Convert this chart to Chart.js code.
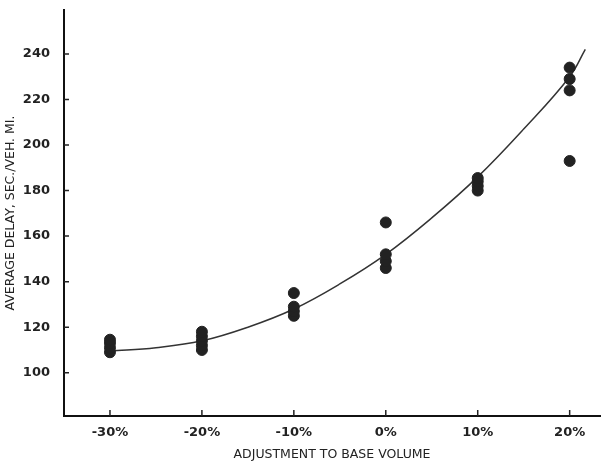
<!DOCTYPE html>
<html>
<head>
<meta charset="utf-8">
<script src="https://cdn.jsdelivr.net/npm/chart.js@4"></script>
<style>
  html, body { margin: 0; padding: 0; background: #fff; }
  #wrap { width: 608px; height: 463px; }
</style>
</head>
<body>
<div id="wrap"><canvas id="delay-chart" width="608" height="463"></canvas></div>
<script>
// observed runs (volume adjustment %, average delay)
const obsX = [-30, -30, -30, -30, -20, -20, -20, -20, -20, -10, -10, -10, -10, 0, 0, 0, 0, 10, 10, 10, 10, 20, 20, 20, 20]
const obsY = [109, 111, 113, 114.5, 110, 112, 114, 116, 118, 125, 127, 129, 135, 146, 149, 152, 166, 180, 182, 184, 185.5, 193, 224, 229, 234]

// fitted curve
const curveX = [-30, -25, -20, -15, -10, -5, 0, 5, 10, 15, 20, 21.7]
const curveY = [109.5, 111, 114, 120, 128, 139, 152, 168, 186, 207, 230, 242]

const xTicks = [-30, -20, -10, 0, 10, 20]
const yTicks = [100, 120, 140, 160, 180, 200, 220, 240]

const tickFont = { family: 'DejaVu Sans', size: 13, weight: 'bold' }
const titleFont = { family: 'DejaVu Sans', size: 12.5 }

const innerTicks = {
  id: 'innerTicks',
  afterDraw(chart) {
    const ctx = chart.ctx
    const x = chart.scales.x, y = chart.scales.y
    ctx.save()
    ctx.strokeStyle = '#222'
    ctx.lineWidth = 1.5
    ctx.beginPath()
    yTicks.forEach(v => {
      const py = y.getPixelForValue(v)
      ctx.moveTo(x.left, py)
      ctx.lineTo(x.left + 5, py)
    })
    xTicks.forEach(v => {
      const px = x.getPixelForValue(v)
      ctx.moveTo(px, y.bottom)
      ctx.lineTo(px, y.bottom - 6)
    })
    ctx.stroke()
    ctx.restore()
  }
}

const data = {
  datasets: [{
    type: 'line',
    data: curveX.map((v, i) => ({ x: v, y: curveY[i] })),
    borderColor: '#333',
    borderWidth: 1.5,
    pointRadius: 0,
    tension: 0.4,
    fill: false,
    order: 2
  }, {
    type: 'scatter',
    data: obsX.map((v, i) => ({ x: v, y: obsY[i] })),
    backgroundColor: '#222',
    borderColor: '#222',
    pointRadius: 5.5,
    order: 1
  }]
}

const config = {
  type: 'scatter',
  data: data,
  options: {
    responsive: false,
    animation: false,
    layout: { padding: { top: 10, right: 8, left: 0, bottom: 0 } },
    scales: {
      x: {
        type: 'linear',
        min: -35,
        max: 23.3,
        afterBuildTicks: s => { s.ticks = xTicks.map(v => ({ value: v })) },
        afterFit: s => { s.height = 47; s.paddingLeft = 0; s.paddingRight = 0 },
        grid: { display: false, drawTicks: false },
        border: { display: true, color: '#111', width: 2 },
        ticks: {
          color: '#222',
          font: tickFont,
          padding: 9,
          maxRotation: 0,
          callback: v => v + '%'
        },
        title: {
          display: true,
          text: 'ADJUSTMENT TO BASE VOLUME',
          color: '#222',
          font: titleFont,
          padding: { top: 0, bottom: 1 }
        }
      },
      y: {
        type: 'linear',
        min: 81,
        max: 259.3,
        afterBuildTicks: s => { s.ticks = yTicks.map(v => ({ value: v })) },
        afterFit: s => { s.width = 64; s.paddingTop = 0; s.paddingBottom = 0 },
        grid: { display: false, drawTicks: false },
        border: { display: true, color: '#111', width: 2 },
        ticks: { color: '#222', font: tickFont, padding: 14 },
        title: {
          display: true,
          text: 'AVERAGE DELAY, SEC./VEH. MI.',
          color: '#222',
          font: titleFont,
          padding: { top: 3, bottom: 0 }
        }
      }
    },
    plugins: {
      legend: { display: false },
      title: { display: false },
      tooltip: { enabled: false }
    }
  },
  plugins: [innerTicks]
}

let chart = new Chart(document.getElementById('delay-chart').getContext('2d'), config)
</script>
</body>
</html>
